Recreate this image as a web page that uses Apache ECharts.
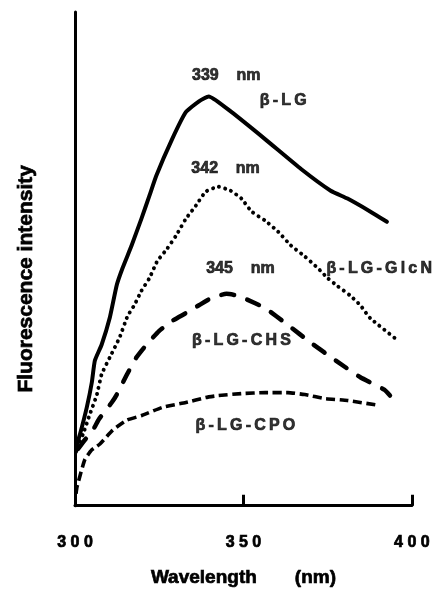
<!DOCTYPE html>
<html>
<head>
<meta charset="utf-8">
<script src="https://cdn.jsdelivr.net/npm/echarts@6/dist/echarts.min.js"></script>
<style>
  html, body { margin: 0; padding: 0; background: #fff; }
  #chart { width: 433px; height: 593px; }
</style>
</head>
<body>
<div id="chart"></div>
<script>
// 横轴刻度
var xTicks = [300, 350, 400];

// β-LG (实线)
var lgWave = [300.3, 300.6, 301.5, 303.5, 305.0, 305.9, 307.9, 310.3, 312.4, 314.1, 316.8, 319.7, 322.1, 324.1, 328.8, 332.9, 336.8, 339.7, 346.5, 356.5, 367.1, 375.9, 380.9, 387.6, 392.6];
var lgInt = [10.9, 12.5, 14.5, 19.9, 25.0, 29.4, 32.6, 38.0, 44.7, 48.1, 52.7, 58.1, 62.8, 66.8, 74.2, 79.7, 81.9, 82.9, 79.7, 74.2, 68.2, 63.8, 62.2, 59.6, 57.5];

// β-LG-GlcN (点线)
var glcWave = [300.6, 302.4, 304.4, 306.5, 307.9, 310.3, 313.2, 315.6, 317.6, 319.7, 322.1, 324.4, 327.4, 330.0, 332.9, 335.9, 338.8, 342.6, 346.2, 349.4, 352.4, 356.5, 360.3, 364.1, 368.2, 372.1, 375.0, 377.9, 381.8, 384.7, 387.6, 395.6];
var glcInt = [11.9, 14.5, 18.5, 22.5, 26.6, 30.0, 34.0, 38.4, 40.6, 43.5, 46.1, 49.5, 52.1, 54.7, 58.1, 60.8, 63.6, 64.6, 63.8, 62.2, 59.6, 57.7, 55.5, 52.7, 50.5, 48.1, 46.1, 44.5, 42.5, 40.6, 38.0, 33.6];

// β-LG-CHS (长虚线)
var chsWave = [300.9, 302.9, 305.3, 307.1, 310.9, 312.4, 315.3, 318.2, 321.2, 325.0, 328.8, 332.9, 336.8, 340.6, 345.0, 348.5, 353.5, 356.5, 363.2, 370.0, 377.4, 384.7, 391.8, 393.5];
var chsInt = [11.5, 13.3, 15.3, 17.5, 20.9, 22.5, 26.4, 30.0, 32.6, 35.4, 37.4, 39.0, 40.6, 42.1, 42.9, 42.5, 41.0, 40.0, 36.6, 33.0, 29.4, 26.0, 23.5, 22.3];

// β-LG-CPO (短虚线)
var cpoWave = [300.3, 300.6, 302.9, 305.0, 307.4, 311.2, 315.3, 320.0, 325.9, 332.9, 338.8, 342.6, 349.4, 356.5, 363.2, 368.2, 374.1, 380.9, 390.3];
var cpoInt = [2.4, 3.8, 9.3, 11.3, 12.5, 15.3, 17.3, 18.3, 19.9, 20.9, 21.9, 22.3, 22.7, 22.9, 22.9, 22.5, 21.7, 21.3, 20.3];

// 图中文字标注
var noteText = ['339    nm', 'β-LG', '342    nm', '345    nm', 'β-LG-GlcN', 'β-LG-CHS', 'β-LG-CPO'];
var noteWave = [344.9, 361.8, 344.7, 349.1, 390.3, 349.4, 350.6];
var noteInt = [87.1, 82.1, 68.2, 48.1, 48.1, 33.4, 16.3];

var FONT = "'Liberation Sans', Arial, Helvetica, sans-serif";

function pairs(xs, ys) {
  return xs.map(function (x, i) { return [x, ys[i]]; });
}
// 字间距
function spaced(s) {
  if (s.indexOf('β') < 0) return s;
  return s.split('').join('\u2009');
}

function lineSeries(name, xs, ys, type, width, cap) {
  return {
    name: name,
    type: 'line',
    data: pairs(xs, ys),
    showSymbol: false,
    smooth: 0.15,
    silent: true,
    lineStyle: { color: '#000', width: width, type: type, cap: cap, join: 'round' }
  };
}

// 粗体文字再描一圈边，接近原图的黑体效果
var heavyText = { fontFamily: FONT, fontWeight: 'bold', color: '#000', textBorderColor: '#000', textBorderWidth: 0.7 };

var chart = echarts.init(document.getElementById('chart'));

var option = {
  backgroundColor: '#fff',
  animation: false,
  grid: { left: 75, right: 18, top: 12, bottom: 84 },
  xAxis: {
    type: 'value',
    min: xTicks[0],
    max: xTicks[xTicks.length - 1],
    interval: 50,
    name: 'Wavelength\u2003\u2003(nm)',
    nameLocation: 'middle',
    nameGap: 63,
    nameTextStyle: Object.assign({}, heavyText, { fontSize: 19 }),
    axisLine: { lineStyle: { color: '#000', width: 3 } },
    axisTick: { inside: true, length: 11, lineStyle: { color: '#000', width: 3 } },
    axisLabel: Object.assign({}, heavyText, {
      margin: 29,
      fontSize: 16,
      formatter: function (v) { return String(v).split('').join(' '); }
    }),
    splitLine: { show: false }
  },
  yAxis: {
    type: 'value',
    min: 0,
    max: 100,
    name: 'Fluorescence intensity',
    nameLocation: 'middle',
    nameGap: 38,
    nameRotate: 90,
    nameTextStyle: Object.assign({}, heavyText, { fontSize: 21, padding: [0, 40, 0, 0] }),
    axisLine: { show: true, lineStyle: { color: '#000', width: 3 } },
    axisTick: { show: false },
    axisLabel: { show: false },
    splitLine: { show: false }
  },
  series: [
    lineSeries('β-LG', lgWave, lgInt, 'solid', 4, 'round'),
    lineSeries('β-LG-GlcN', glcWave, glcInt, [0.1, 6.2], 3.9, 'round'),
    lineSeries('β-LG-CHS', chsWave, chsInt, [13, 14], 4.5, 'round'),
    lineSeries('β-LG-CPO', cpoWave, cpoInt, [9, 4.5], 3.6, 'butt'),
    {
      type: 'scatter',
      silent: true,
      symbolSize: 0,
      data: noteText.map(function (t, i) {
        return { name: spaced(t), value: [noteWave[i], noteInt[i]] };
      }),
      label: Object.assign({}, heavyText, {
        show: true,
        position: 'inside',
        fontSize: 16,
        formatter: function (p) { return p.name; }
      })
    }
  ]
};

chart.setOption(option);
</script>
</body>
</html>
